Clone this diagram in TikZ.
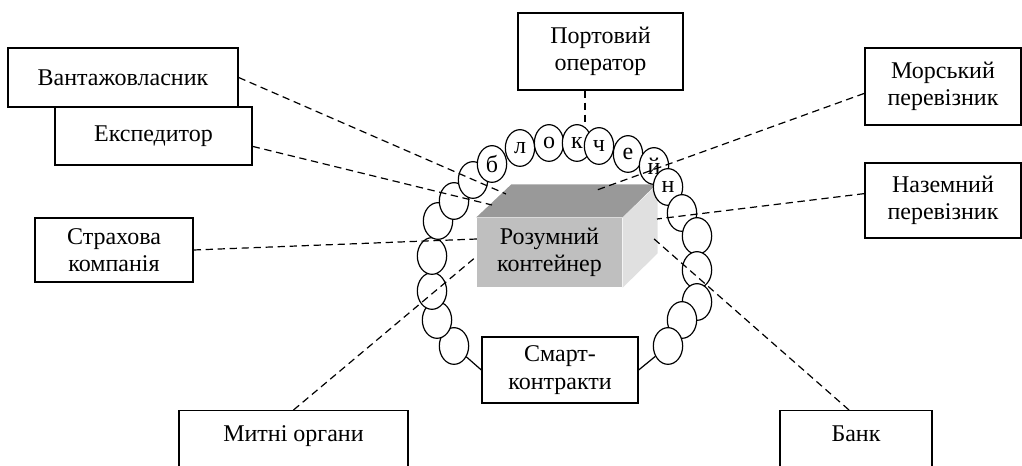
\documentclass[tikz,border=0pt]{standalone}
\usepackage{fontspec}
\setmainfont{Liberation Serif}
\usetikzlibrary{shapes,positioning}

\begin{document}
\begin{tikzpicture}[x=0.75pt,y=-0.75pt, link/.style={dash pattern=on 5.5pt off 3.5pt, line width=0.9pt}]
            \useasboundingbox (0,0) rectangle (1022,466);
            \clip (0,0) rectangle (1022,466);
            \begin{scope}[actor/.style={rectangle, draw=black, line width=1pt, fill=white, inner sep=0pt, align=center, font=\fontsize{18}{20.5}\selectfont},
                          bead/.style={ellipse, draw=black, line width=0.9pt, fill=white, inner sep=0pt, minimum width=22pt, minimum height=27.5pt, font=\fontsize{18}{20}\selectfont}]
                \node(vant) at (123,77.5) [actor, minimum width=172.5pt, minimum height=44.25pt]{Вантажовласник};
                \node(eksp) at (153.5,136) [actor, minimum width=147.75pt, minimum height=43.5pt]{Експедитор};
                \node(strakh) at (114,250) [actor, minimum width=118.5pt, minimum height=48pt]{Страхова\\компанія};
                \node(port) at (600.5,51.5) [actor, minimum width=123.75pt, minimum height=57.75pt]{Портовий\\оператор};
                \node(morsk) at (943,86.5) [actor, minimum width=117pt, minimum height=57.75pt]{Морський\\перевізник};
                \node(nazem) at (943,200.5) [actor, minimum width=117pt, minimum height=56.25pt]{Наземний\\перевізник};
                \node(smart) at (560,370) [actor, minimum width=117pt, minimum height=49.5pt]{Смарт-\\контракти};
                \node(mytni) at (293.5,410) [actor, anchor=north, minimum width=171.75pt, text height=23.25pt, text depth=40pt]{Митні органи};
                \node(bank) at (856,410) [actor, anchor=north, minimum width=114pt, text height=23.25pt, text depth=40pt]{Банк};
                %%%
                \node(cont) at (549.5,252.5) [actor, draw=none, fill=black!25, minimum width=108.75pt, minimum height=51.75pt]{Розумний\\контейнер};
                \fill[black!40] (cont.north west) -- ++(35,-33) -- ++(145,0) -- (cont.north east) -- cycle;
                \fill[black!12] (cont.north east) -- ++(35,-33) -- ++(0,69) -- (cont.south east) -- cycle;
                %%%
                \node(l7) at (454,346) [bead]{};
                \node(l6) at (437,320) [bead]{};
                \node(l5) at (432,291) [bead]{};
                \node(l4) at (432,256) [bead]{};
                \node(l3) at (438,221) [bead]{};
                \node(l2) at (454,201) [bead]{};
                \node(l1) at (473,180) [bead]{};
                %%%
                \node(t1) at (492,164) [bead]{б};
                \node(t2) at (520,148) [bead]{л};
                \node(t3) at (549,143) [bead]{о};
                \node(t4) at (577,143) [bead]{к};
                \node(t5) at (599,146) [bead]{ч};
                \node(t6) at (628,154) [bead]{е};
                \node(t7) at (654,166) [bead]{й};
                \node(t8) at (668,187) [bead]{н};
                %%%
                \node(r1) at (682,213) [bead]{};
                \node(r2) at (697,236) [bead]{};
                \node(r3) at (697,270) [bead]{};
                \node(r4) at (697,302) [bead]{};
                \node(r5) at (682,320) [bead]{};
                \node(r6) at (668,346) [bead]{};
            \end{scope}
            \draw[line width=0.9pt] (l7) -- (smart.west);
            \draw[line width=0.9pt] (r6) -- (smart.east);
            %
            \coordinate (pv) at (506,194);
            \coordinate (pe) at (492,205);
            \coordinate (ps) at (477,239);
            \coordinate (pp) at (585,126);
            \coordinate (pm) at (597,190);
            \coordinate (pn) at (657,219);
            \coordinate (pmy) at (477,256);
            \coordinate (pb) at (653,238);
            %
            \draw[link] (vant.east) -- (pv);
            \draw[link] (eksp.-6) -- (pe);
            \draw[link] (strakh.east) -- (ps);
            \draw[link] (port.south -| pp) -- (pp);
            \draw[link] (morsk.185) -- (pm);
            \draw[link] (nazem.175) -- (pn);
            \draw[link] (mytni.north) -- (pmy);
            \draw[link] ([xshift=-5.25pt]bank.north) -- (pb);
        \end{tikzpicture}
\end{document}
